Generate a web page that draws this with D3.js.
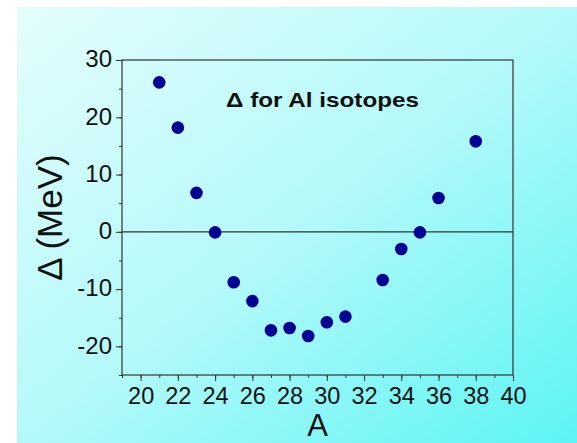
<!DOCTYPE html>
<html>
<head>
<meta charset="utf-8">
<script src="https://cdn.jsdelivr.net/npm/d3@7"></script>
<style>
  body { margin: 0; background: #fff; }
  svg { display: block; font-family: "Liberation Sans", Arial, sans-serif; }
</style>
</head>
<body>
<div id="chart"></div>
<script>
// mass number A and mass excess (MeV)
const massNumbers = [21, 22, 23, 24, 25, 26, 27, 28, 29, 30, 31, 33, 34, 35, 36, 38];
const deltaValues = [26.1, 18.2, 6.8, -0.1, -8.8, -12.1, -17.2, -16.8, -18.2, -15.8, -14.8, -8.4, -3.0, -0.1, 5.9, 15.8];
const xTickValues = [20, 22, 24, 26, 28, 30, 32, 34, 36, 38, 40];
const yTickValues = [-20, -10, 0, 10, 20, 30];

const width = 577, height = 443;
const margin = {top: 60, right: 64, bottom: 68, left: 122};

const svg = d3.select('#chart')
    .append('svg')
    .attr('width', width)
    .attr('height', height);

// background gradient
const defs = svg.append('defs');
const grad = defs.append('linearGradient')
    .attr('id', 'bg')
    .attr('x1', 0).attr('y1', 0)
    .attr('x2', 1).attr('y2', 1);
grad.append('stop').attr('offset', '0%').attr('stop-color', '#e4fdfd');
grad.append('stop').attr('offset', '50%').attr('stop-color', '#b4f9f9');
grad.append('stop').attr('offset', '100%').attr('stop-color', '#5cf4f4');

svg.append('rect')
    .attr('x', 17).attr('y', 7)
    .attr('width', width - 17).attr('height', height - 7)
    .attr('fill', 'url(#bg)');

const x = d3.scaleLinear()
    .domain([19, 40])
    .range([margin.left, width - margin.right]);

const y = d3.scaleLinear()
    .domain([-25, 30])
    .range([height - margin.bottom, margin.top]);

const axisColor = '#333';
const plain = d => String(d);

// minor ticks
svg.append('g')
    .attr('transform', `translate(0,${height - margin.bottom})`)
    .call(d3.axisBottom(x).tickValues(d3.range(19, 41, 1)).tickSize(3).tickFormat(''))
    .call(g => g.select('.domain').remove())
    .call(g => g.selectAll('line').attr('stroke', axisColor));

svg.append('g')
    .attr('transform', `translate(${margin.left},0)`)
    .call(d3.axisLeft(y).tickValues(d3.range(-25, 31, 5)).tickSize(3).tickFormat(''))
    .call(g => g.select('.domain').remove())
    .call(g => g.selectAll('line').attr('stroke', axisColor));

// major ticks
const xAxis = svg.append('g')
    .attr('transform', `translate(0,${height - margin.bottom})`)
    .call(d3.axisBottom(x).tickValues(xTickValues).tickFormat(plain).tickSize(6).tickPadding(6).tickSizeOuter(0));
xAxis.select('.domain').remove();
xAxis.selectAll('line').attr('stroke', axisColor);
xAxis.selectAll('text')
    .attr('fill', '#111')
    .style('font-size', '23.5px');

const yAxis = svg.append('g')
    .attr('transform', `translate(${margin.left},0)`)
    .call(d3.axisLeft(y).tickValues(yTickValues).tickFormat(plain).tickSize(6).tickPadding(4).tickSizeOuter(0));
yAxis.select('.domain').remove();
yAxis.selectAll('line').attr('stroke', axisColor);
yAxis.selectAll('text')
    .attr('fill', '#111')
    .attr('dy', '0.28em')
    .style('font-size', '24px');

// frame
svg.append('rect')
    .attr('x', margin.left)
    .attr('y', margin.top)
    .attr('width', width - margin.right - margin.left)
    .attr('height', height - margin.bottom - margin.top)
    .attr('fill', 'none')
    .attr('stroke', axisColor)
    .attr('stroke-width', 1.2);

// zero line
svg.append('line')
    .attr('x1', x(19)).attr('x2', x(40))
    .attr('y1', y(0)).attr('y2', y(0))
    .attr('stroke', axisColor)
    .attr('stroke-width', 1.2);

// points
svg.append('g')
    .selectAll('circle')
    .data(massNumbers)
    .join('circle')
    .attr('cx', d => x(d))
    .attr('cy', (d, i) => y(deltaValues[i]))
    .attr('r', 6.3)
    .attr('fill', '#000095');

// title in plot
svg.append('text')
    .attr('x', 226)
    .attr('y', 107)
    .attr('font-size', 21)
    .attr('font-weight', 'bold')
    .attr('fill', '#111')
    .attr('textLength', 193)
    .attr('lengthAdjust', 'spacingAndGlyphs')
    .text('Δ for Al isotopes');

// axis labels
svg.append('text')
    .attr('x', x(29.5))
    .attr('y', 436)
    .attr('text-anchor', 'middle')
    .attr('font-size', 31)
    .attr('fill', '#111')
    .text('A');

svg.append('text')
    .attr('transform', `translate(62,${y(2.5)}) rotate(-90)`)
    .attr('text-anchor', 'middle')
    .attr('font-size', 35)
    .attr('fill', '#111')
    .text('Δ (MeV)');
</script>
</body>
</html>
